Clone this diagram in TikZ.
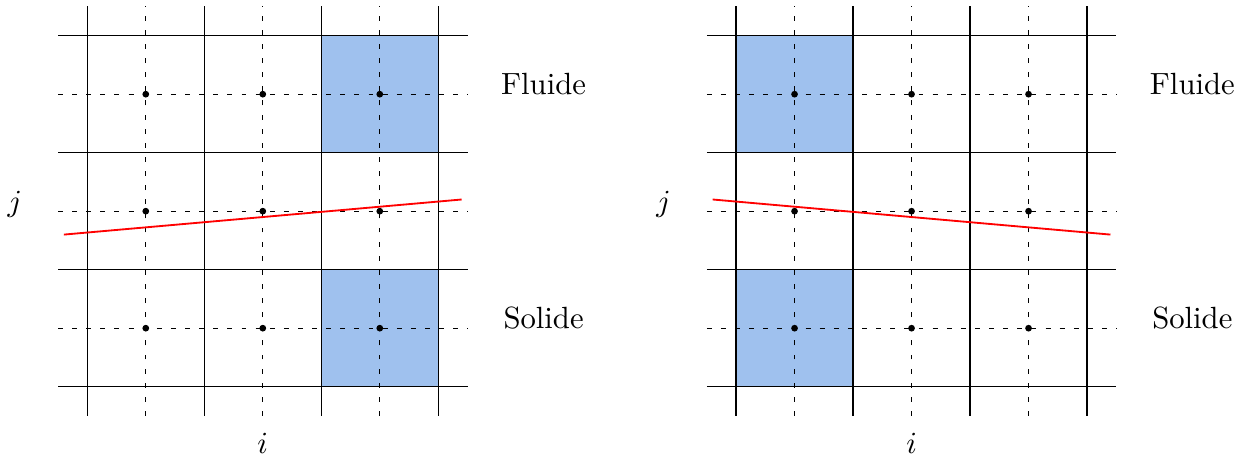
\documentclass[tikz,border=0pt]{standalone}
\usepackage{tikz}
\usetikzlibrary{positioning}
\definecolor{cellblue}{RGB}{159,193,238}
\tikzset{
  gridline/.style={black, line width=0.45pt},
  midline/.style={black, line width=0.4pt, dash pattern=on 1.6pt off 3pt},
  interface/.style={red, line width=0.6pt},
  nodept/.style={circle, fill=black, inner sep=0pt, minimum size=2.2pt},
  cellfill/.style={fill=cellblue}
}
\begin{document}
\begin{tikzpicture}[x=1.34cm, y=1.34cm]
    \useasboundingbox (-0.746,-0.601) rectangle (9.912,3.305);

    \foreach \p/\ox/\bc/\ya/\yb in {L/0/2/1.3/1.6, R/5.545/0/1.6/1.3} {
      \begin{scope}[shift={(\ox,0)}]
        % solid cells
        \fill[cellfill] (\bc,2) rectangle ++(1,1);
        \fill[cellfill] (\bc,0) rectangle ++(1,1);
        % cell edges and centre lines
        \foreach \k in {0,...,3} {
          \draw[gridline] (\k,-0.25) -- (\k,3.25);
          \draw[gridline] (-0.25,\k) -- (3.25,\k);
        }
        \foreach \k in {0.5,1.5,2.5} {
          \draw[midline] (\k,-0.25) -- (\k,3.25);
          \draw[midline] (-0.25,\k) -- (3.25,\k);
        }
        \foreach \a in {0,1,2} {
          \foreach \b in {0,1,2} {
            \node[nodept] (pt\p\a\b) at (\a+0.5,\b+0.5) {};
          }
        }
        % interface
        \coordinate (ifA\p) at (-0.2,\ya);
        \coordinate (ifB\p) at (3.2,\yb);
        \draw[interface] (ifA\p) -- (ifB\p);
        % labels
        \node[anchor=base] (fluide\p) at (3.9,2.5) {Fluide};
        \node[anchor=base] (solide\p) at (3.9,0.5) {Solide};
        \node[anchor=base] (j\p) at (-0.62,1.5) {$j$};
        \node[anchor=base] (i\p) at (1.5,-0.567) {$i$};
      \end{scope}
    }
\end{tikzpicture}
\end{document}
